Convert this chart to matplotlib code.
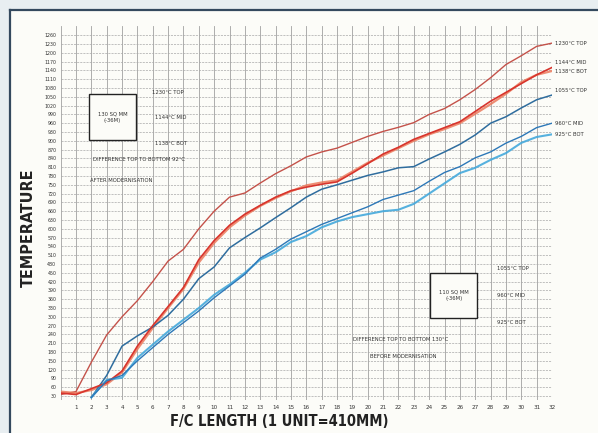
import numpy as np
import matplotlib
matplotlib.use('Agg')
import matplotlib.pyplot as plt
from matplotlib.patches import Rectangle
from matplotlib.lines import Line2D

# --- data (x = F/C length units, y = temperature in deg C) ---
x_after = list(range(0, 33))
after_top = [35, 45, 145, 238, 300, 355, 420, 490, 530, 600, 660, 708, 722, 756, 788, 815,
             845, 862, 875, 895, 915, 932, 946, 962, 990, 1010, 1040, 1075, 1115, 1160, 1190,
             1222, 1233]
after_mid = [40, 35, 55, 75, 115, 200, 270, 335, 400, 495, 560, 612, 650, 680, 708, 730,
             742, 752, 760, 790, 822, 855, 878, 905, 925, 945, 965, 1000, 1035, 1065, 1095,
             1125, 1150]
after_bot = [45, 40, 50, 70, 110, 190, 262, 330, 395, 485, 552, 605, 645, 678, 705, 728,
             748, 758, 765, 795, 825, 850, 875, 900, 922, 940, 960, 992, 1025, 1060, 1100,
             1125, 1138]

x_before = list(range(2, 33))
before_top = [25, 100, 200, 235, 265, 305, 360, 430, 470, 535, 570, 603, 638, 672, 708, 735,
              750, 766, 782, 794, 808, 812, 838, 862, 888, 920, 960, 982, 1012, 1040, 1056]
before_mid = [25, 82, 100, 150, 195, 240, 280, 320, 365, 405, 445, 500, 530, 565, 590, 615,
              635, 655, 675, 700, 715, 730, 762, 792, 812, 842, 862, 892, 915, 945, 960]
before_bot = [25, 85, 92, 160, 205, 250, 290, 330, 375, 410, 450, 495, 520, 555, 575, 605,
              625, 640, 650, 660, 665, 685, 720, 755, 790, 808, 835, 858, 893, 913, 922]

x_ticks = list(range(1, 33))
y_ticks = list(range(30, 1261, 30))

end_labels = ['1230°C TOP', '1144°C MID', '1138°C BOT', '1055°C TOP', '960°C MID', '925°C BOT']
end_label_y = [1233, 1168, 1135, 1073, 960, 923]

W, H = 598, 433
fig = plt.figure(figsize=(W / 100, H / 100), dpi=100)
fig.patch.set_facecolor('#e8eef1')

# paper background + frame
fig.patches.append(Rectangle((10 / W, 0), 1, 1 - 10 / H, transform=fig.transFigure,
                             facecolor='#fcfcf8', edgecolor='none', zorder=-5))
fig.lines.append(Line2D([10 / W, 10 / W], [0, 1 - 10 / H], transform=fig.transFigure,
                        color='#34495e', lw=1.6, zorder=-4))
fig.lines.append(Line2D([10 / W, 1], [1 - 10 / H, 1 - 10 / H], transform=fig.transFigure,
                        color='#34495e', lw=1.6, zorder=-4))

ax = fig.add_axes([60.6 / W, 0.0753, (552 - 60.6) / W, 0.8637])
ax.set_zorder(2)
ax.set_facecolor('none')
ax.set_xlim(0, 32)
ax.set_ylim(15, 1290)

# grid paper
for xv in range(0, 33):
    ax.axvline(xv, color='#a0a0a0', lw=0.6, zorder=1)
for yv in y_ticks:
    ax.axhline(yv, color='#a8a8a8', lw=0.5, ls=(0, (3, 1.5)), zorder=1)

for s in ax.spines.values():
    s.set_visible(False)

ax.set_xticks(x_ticks)
ax.set_xticklabels([str(v) for v in x_ticks], fontsize=4.5, color='#333333',
                   fontstretch='condensed')
ax.set_yticks(y_ticks)
ax.set_yticklabels([str(v) for v in y_ticks], fontsize=3.8, color='#333333',
                   fontstretch='condensed')
ax.tick_params(length=0, pad=3)

# lines
ax.plot(x_after, after_top, color='#c4524a', lw=1.0, zorder=4)
ax.plot(x_after, after_bot, color='#ec7a5c', lw=1.6, zorder=4, alpha=0.85)
ax.plot(x_after, after_mid, color='#d8342c', lw=1.2, zorder=5)
ax.plot(x_before, before_top, color='#2f6d9e', lw=1.1, zorder=4)
ax.plot(x_before, before_bot, color='#44a9dc', lw=1.5, zorder=4, alpha=0.9)
ax.plot(x_before, before_mid, color='#2d78b8', lw=1.0, zorder=5)

# annotations
small = dict(fontsize=4.2, color='#333333', fontstretch='condensed', zorder=6)
ax.text(5.95, 1066, '1230°C TOP', va='center', ha='left', **small)
ax.text(6.15, 978, '1144°C MID', va='center', ha='left', **small)
ax.text(6.15, 892, '1138°C BOT', va='center', ha='left', **small)
ax.text(2.1, 835, 'DIFFERENCE TOP TO BOTTOM 92°C', va='center', ha='left', **small)
ax.text(1.9, 766, 'AFTER MODERNISATION', va='center', ha='left', **small)

ax.text(28.4, 466, '1055°C TOP', va='center', ha='left', **small)
ax.text(28.4, 374, '960°C MID', va='center', ha='left', **small)
ax.text(28.4, 282, '925°C BOT', va='center', ha='left', **small)
ax.text(19.05, 224, 'DIFFERENCE TOP TO BOTTOM 130°C', va='center', ha='left', **small)
ax.text(20.15, 163, 'BEFORE MODERNISATION', va='center', ha='left', **small)

ax.add_patch(Rectangle((1.85, 903), 3.07, 157, facecolor='#fcfcf8', edgecolor='#222222',
                       lw=1.0, zorder=6))
ax.text(3.38, 981, '130 SQ MM\n(-36M)', ha='center', va='center', linespacing=1.4, **small)
ax.add_patch(Rectangle((24.06, 296), 3.06, 153, facecolor='#fcfcf8', edgecolor='#222222',
                       lw=1.0, zorder=6))
ax.text(25.6, 373, '110 SQ MM\n(-36M)', ha='center', va='center', linespacing=1.4, **small)

for lab, yv in zip(end_labels, end_label_y):
    ax.text(32.2, yv, lab, va='center', ha='left', clip_on=False, **small)

fig.text(28 / W, 1 - 228 / H, 'TEMPERATURE', rotation=90, ha='center', va='center',
         fontsize=11.5, color='#222222', fontstretch='condensed', fontweight='bold')
fig.text(279 / W, 1 - 422 / H, 'F/C LENGTH (1 UNIT=410MM)', ha='center', va='center',
         fontsize=10.5, color='#222222', fontstretch='condensed', fontweight='bold')

fig.savefig('out.png', dpi=100, facecolor=fig.get_facecolor())
